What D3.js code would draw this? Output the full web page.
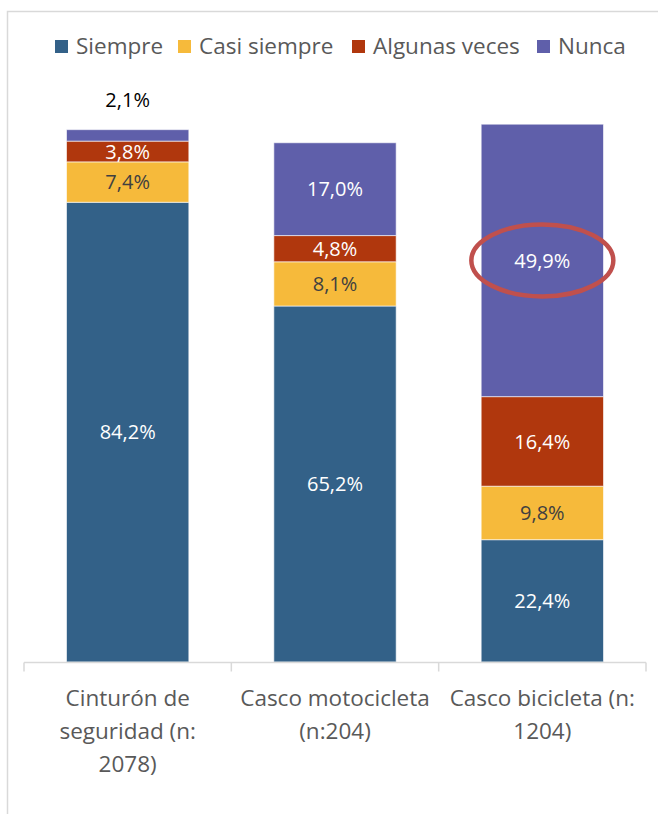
<!DOCTYPE html>
<html>
<head>
<meta charset="utf-8">
<script src="https://cdn.jsdelivr.net/npm/d3@7"></script>
<style>
  html, body { margin: 0; padding: 0; background: #fff; }
  svg { display: block; }
  text { font-family: "Open Sans", Lato, sans-serif; }
</style>
</head>
<body>
<svg id="chart" width="658" height="814"></svg>
<script>
// Uso de elementos de protección (porcentaje por categoría)
const categories = ["Cinturón de seguridad (n: 2078)", "Casco motocicleta (n:204)", "Casco bicicleta (n: 1204)"];
const categoryLines = [["Cinturón de", "seguridad (n:", "2078)"], ["Casco motocicleta", "(n:204)"], ["Casco bicicleta (n:", "1204)"]];
const seriesNames = ["Siempre", "Casi siempre", "Algunas veces", "Nunca"];
const siempre = [84.2, 65.2, 22.4];
const casiSiempre = [7.4, 8.1, 9.8];
const algunasVeces = [3.8, 4.8, 16.4];
const nunca = [2.1, 17.0, 49.9];
const highlighted = { category: 2, series: 3 };

const colors = ["#336188", "#F6BA3B", "#B0370D", "#5F5FAA"];
const labelColors = ["#ffffff", "#404040", "#ffffff", "#ffffff"];

const rows = categories.map((c, i) => ({
  category: c,
  "Siempre": siempre[i],
  "Casi siempre": casiSiempre[i],
  "Algunas veces": algunasVeces[i],
  "Nunca": nunca[i]
}));

const stacked = d3.stack().keys(seriesNames)(rows);

const svg = d3.select("#chart");

// frame
svg.append("path")
  .attr("d", "M7.5,814 V11.5 H658")
  .attr("fill", "none")
  .attr("stroke", "#D9D9D9")
  .attr("stroke-width", 1.5);

const x = d3.scaleBand()
  .domain(categories)
  .range([24, 646])
  .paddingInner(0.41)
  .paddingOuter(0.205);

const y = d3.scaleLinear()
  .domain([0, 100])
  .range([662, 116]);

// bars
const layers = svg.append("g").selectAll("g")
  .data(stacked)
  .join("g")
  .attr("fill", (d, i) => colors[i]);

layers.selectAll("rect")
  .data(d => d)
  .join("rect")
  .attr("x", d => x(d.data.category))
  .attr("width", x.bandwidth())
  .attr("y", d => y(d[1]))
  .attr("height", d => y(d[0]) - y(d[1]))
  .attr("stroke", "rgba(255,255,255,0.6)")
  .attr("stroke-width", 1);

// value labels
const fmt = v => v.toFixed(1).replace(".", ",") + "%";
stacked.forEach((layer, si) => {
  layer.forEach((d, ci) => {
    const v = d[1] - d[0];
    const tooSmall = (y(d[0]) - y(d[1])) < 16;
    svg.append("text")
      .attr("x", x(d.data.category) + x.bandwidth() / 2)
      .attr("y", tooSmall ? y(d[1]) - 30 : (y(d[0]) + y(d[1])) / 2)
      .attr("dy", "0.36em")
      .attr("text-anchor", "middle")
      .attr("font-size", 20)
      .attr("fill", tooSmall ? "#000000" : labelColors[si])
      .text(fmt(v));
  });
});

// highlight ring
const hl = stacked[highlighted.series][highlighted.category];
svg.append("ellipse")
  .attr("cx", x(hl.data.category) + x.bandwidth() / 2)
  .attr("cy", (y(hl[0]) + y(hl[1])) / 2)
  .attr("rx", 71)
  .attr("ry", 36)
  .attr("fill", "none")
  .attr("stroke", "#C0504D")
  .attr("stroke-width", 4.5);

// category axis
const axisY = 662.5;
const axis = svg.append("g").attr("stroke", "#D9D9D9").attr("stroke-width", 1.5);
axis.append("line")
  .attr("x1", x.range()[0]).attr("x2", x.range()[1])
  .attr("y1", axisY).attr("y2", axisY);
const bounds = categories.map(c => x(c) - x.step() * x.paddingInner() / 2);
bounds.push(x.range()[1]);
bounds[0] = x.range()[0];
axis.selectAll("line.tick")
  .data(bounds)
  .join("line")
  .attr("class", "tick")
  .attr("x1", d => d).attr("x2", d => d)
  .attr("y1", axisY).attr("y2", axisY + 9);

categories.forEach((c, i) => {
  const t = svg.append("text")
    .attr("x", x(c) + x.bandwidth() / 2)
    .attr("y", 706)
    .attr("text-anchor", "middle")
    .attr("font-size", 22.5)
    .attr("fill", "#595959");
  categoryLines[i].forEach((ln, k) => {
    t.append("tspan")
      .attr("x", x(c) + x.bandwidth() / 2)
      .attr("dy", k === 0 ? 0 : 33)
      .text(ln);
  });
});

// legend
const legendX = [55, 178, 352, 537];
const legend = svg.append("g");
seriesNames.forEach((s, i) => {
  legend.append("rect")
    .attr("x", legendX[i]).attr("y", 40)
    .attr("width", 13).attr("height", 13)
    .attr("fill", colors[i]);
  legend.append("text")
    .attr("x", legendX[i] + 21)
    .attr("y", 54)
    .attr("font-size", 22.5)
    .attr("fill", "#595959")
    .text(s);
});
</script>
</body>
</html>
